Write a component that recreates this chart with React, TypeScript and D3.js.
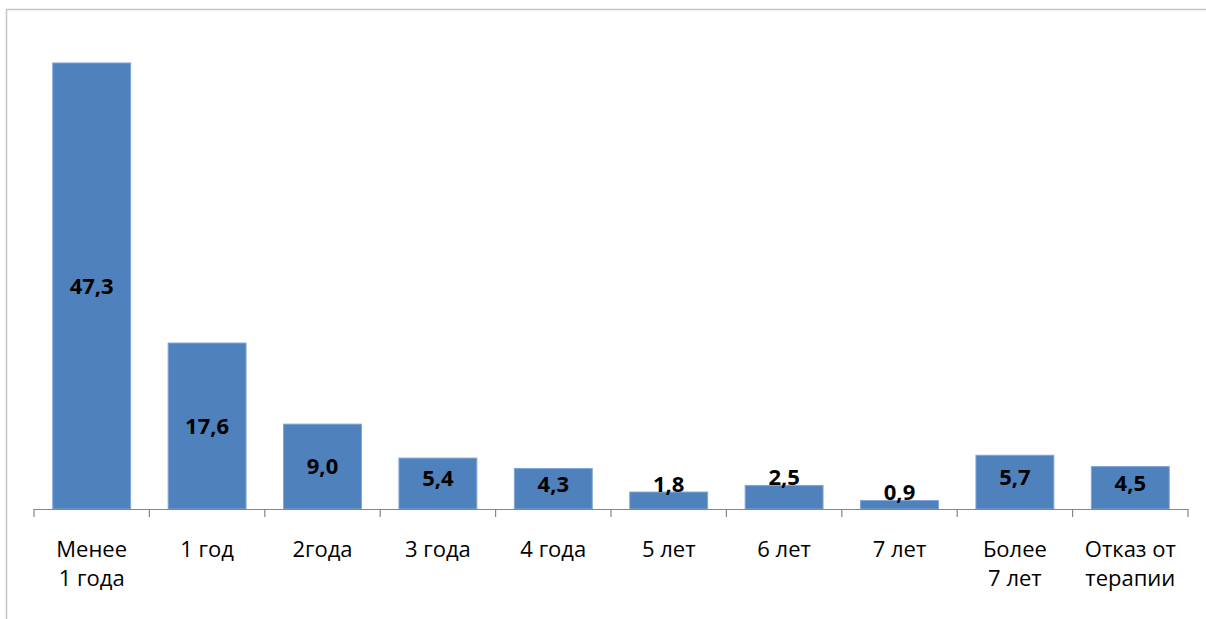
import React from "react";
import * as d3 from "d3";

const categories: string[][] = [
  ["Менее", "1 года"],
  ["1 год"],
  ["2года"],
  ["3 года"],
  ["4 года"],
  ["5 лет"],
  ["6 лет"],
  ["7 лет"],
  ["Более", "7 лет"],
  ["Отказ от", "терапии"],
];
const values: number[] = [47.3, 17.6, 9.0, 5.4, 4.3, 1.8, 2.5, 0.9, 5.7, 4.5];
const valueLabels: string[] = ["47,3", "17,6", "9,0", "5,4", "4,3", "1,8", "2,5", "0,9", "5,7", "4,5"];

const W = 1206;
const H = 619;
const axisY = 509;
const plotLeft = 34;
const plotRight = 1188;

export default function App() {
  const x = d3
    .scaleBand<number>()
    .domain(d3.range(values.length))
    .range([plotLeft, plotRight])
    .paddingInner(0.325)
    .paddingOuter(0.1625);
  const y = d3.scaleLinear().domain([0, 50]).range([axisY, 37.5]);
  const step = (plotRight - plotLeft) / values.length;
  const ticks = d3.range(values.length + 1).map((i) => plotLeft + i * step);
  const font = "'Open Sans', 'Noto Sans', sans-serif";

  return (
    <svg
      width={W}
      height={H}
      style={{ position: "absolute", left: 0, top: 0, display: "block", background: "#fff" }}
    >
      <rect x={6.5} y={9.5} width={W + 20} height={H + 20} fill="#fff" stroke="#c4c4c4" strokeWidth={1.5} />
      {values.map((v, i) => {
        const bx = x(i)!;
        const top = y(v);
        const h = axisY - top;
        const cy = h >= 30 ? top + h / 2 - (h < 60 ? 5 : 0) : top - 8;
        return (
          <g key={i}>
            <rect x={bx} y={top} width={x.bandwidth()} height={h} fill="#4F81BD" stroke="#7fa6d6" strokeWidth={1} />
            <text
              x={bx + x.bandwidth() / 2}
              y={cy}
              dy="0.36em"
              textAnchor="middle"
              fontFamily={font}
              fontWeight="bold"
              fontSize={22}
              fill="#000"
            >
              {valueLabels[i]}
            </text>
          </g>
        );
      })}
      <line x1={plotLeft} x2={plotRight} y1={axisY + 0.5} y2={axisY + 0.5} stroke="#868686" strokeWidth={1.2} />
      {ticks.map((t, i) => (
        <line key={i} x1={t} x2={t} y1={axisY} y2={axisY + 8} stroke="#868686" strokeWidth={1.2} />
      ))}
      {categories.map((lines, i) => (
        <text
          key={i}
          x={x(i)! + x.bandwidth() / 2}
          y={557}
          textAnchor="middle"
          fontFamily={font}
          fontSize={22}
          fill="#000"
        >
          {lines.map((l, j) => (
            <tspan key={j} x={x(i)! + x.bandwidth() / 2} dy={j === 0 ? 0 : 29}>
              {l}
            </tspan>
          ))}
        </text>
      ))}
    </svg>
  );
}
